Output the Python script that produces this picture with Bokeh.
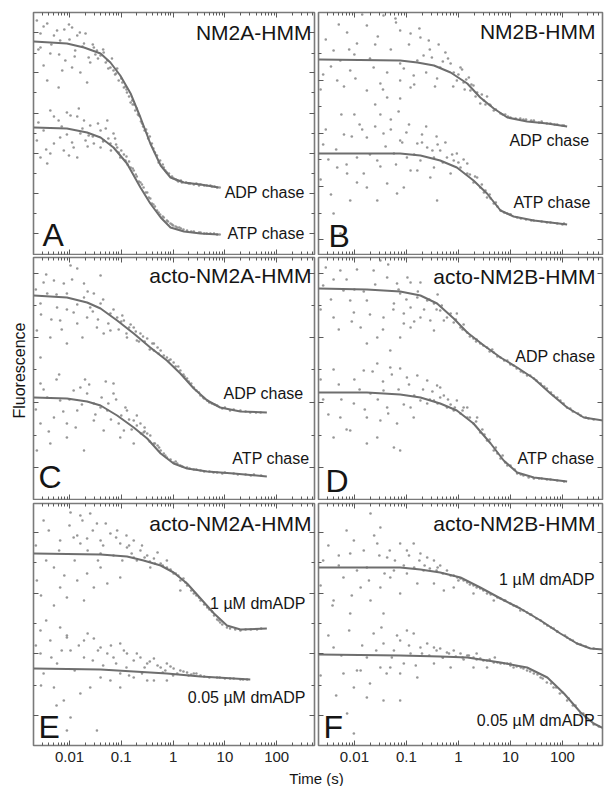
import numpy as np
from bokeh.plotting import figure
from bokeh.models import FixedTicker, LogAxis, LinearAxis, Label, CustomJSTickFormatter
from bokeh.layouts import column, row
from bokeh.embed import file_html
from bokeh.resources import INLINE

# ---------------- data: log10(time / s) and fluorescence (a.u.) ----------------
# Panel A (NM2A-HMM)
a_adp_fit_lt = [-2.69, -2.05, -1.72, -1.40, -1.21, -1.02, -0.82, -0.63, -0.44, -0.24, -0.05, 0.21, 0.53, 0.88]
a_adp_fit_f = [213, 211, 207, 201, 192, 179, 161, 137, 111, 89, 77, 72, 70, 67]
a_atp_fit_lt = [-2.69, -2.05, -1.66, -1.40, -1.15, -0.89, -0.63, -0.44, -0.24, -0.05, 0.21, 0.53, 0.88]
a_atp_fit_f = [127, 126, 122, 117, 107, 91, 67, 51, 37, 27, 23, 21, 20]
a_adp_pts_lt = [-2.63, -2.43, -2.01, -1.95, -2.24, -1.85, -1.69, -2.18, -2.56, -2.37, -2.08, -2.50, -1.95, -1.79, -1.63, -1.47, -1.40, -1.27, -1.21, -1.15, -1.05, -0.95, -0.89, -0.79, -0.73, -0.66, -0.60, -0.50, -0.41, -0.31, -0.18, -0.08, 0.01, 0.17, 0.33, 0.53, 0.72, 0.85, -2.30, -1.72, -1.53, -1.34, -1.89, -2.14, -2.56, -1.66, -2.43, -2.21, -1.00, -0.85, -0.70, -0.55, -0.45, -0.35, -0.25, -0.12, 0.05, 0.10, 0.25, 0.40, 0.60, 0.80, -0.62, -0.78, -0.92, -1.10, -1.30, -1.50,
                -2.6, -2.5, -2.35, -2.2, -2.1, -2.0, -1.9, -1.8, -1.75, -1.6, -1.55, -1.45, -1.35, -1.25, -1.18, -1.12, -1.08, -0.98, -0.9, -0.82, -0.75, -0.68, -0.58, -0.52, -0.48, -0.38, -0.28, -0.2, -0.15, -0.02, 0.08, 0.15, 0.3, 0.45, 0.5, 0.65, 0.75, 0.9]
a_adp_pts_f = [234, 231, 230, 227, 224, 219, 221, 214, 207, 201, 194, 189, 187, 182, 197, 204, 199, 194, 187, 184, 174, 167, 162, 154, 144, 139, 131, 121, 111, 99, 87, 81, 76, 72, 71, 70, 69, 67, 219, 211, 207, 202, 204, 184, 221, 172, 174, 167, 176, 158, 146, 124, 118, 102, 94, 82, 75, 73, 72, 70, 69, 68, 133, 150, 168, 181, 192, 200,
               205, 228, 210, 200, 225, 215, 198, 222, 208, 192, 210, 196, 205, 186, 196, 180, 186, 172, 165, 152, 150, 140, 128, 125, 116, 106, 92, 90, 84, 78, 74, 74, 71, 71, 69, 69, 68, 67]
a_atp_pts_lt = [-2.37, -2.05, -1.98, -1.82, -2.21, -2.50, -2.63, -2.30, -2.11, -1.92, -1.72, -1.60, -1.40, -1.27, -1.15, -2.56, -2.43, -2.01, -1.85, -1.69, -1.53, -1.34, -1.21, -1.08, -1.02, -0.92, -0.82, -0.76, -0.63, -0.57, -0.47, -0.41, -0.31, -0.18, -0.05, 0.08, 0.27, 0.53, 0.79, -1.79, -1.63, -2.18, -2.37, -1.40, -1.05, -0.70, -0.50, -0.35, -0.25, -0.10, 0.00, 0.15, 0.40, 0.65, 0.85, -0.88, -0.95, -1.10, -1.25,
                -2.6, -2.45, -2.3, -2.15, -2.05, -1.95, -1.85, -1.75, -1.65, -1.55, -1.45, -1.35, -1.3, -1.2, -1.12, -1.0, -0.9, -0.85, -0.78, -0.72, -0.66, -0.6, -0.53, -0.44, -0.38, -0.28, -0.2, -0.12, -0.02, 0.05, 0.12, 0.2, 0.35, 0.5, 0.6, 0.72, 0.9]
a_atp_pts_f = [144, 142, 139, 146, 134, 124, 114, 111, 104, 107, 134, 129, 124, 134, 121, 97, 91, 99, 97, 114, 111, 114, 111, 107, 97, 94, 87, 84, 72, 67, 57, 51, 44, 37, 31, 27, 24, 22, 21, 121, 119, 117, 101, 107, 102, 78, 62, 48, 40, 33, 29, 26, 23, 21, 20, 90, 100, 110, 116,
               132, 105, 138, 128, 120, 112, 138, 126, 108, 118, 131, 113, 126, 104, 116, 104, 98, 93, 86, 80, 73, 70, 62, 56, 50, 42, 38, 34, 30, 28, 27, 25, 23, 22, 21, 21, 20]

# Panel B (NM2B-HMM)
b_adp_fit_lt = [-2.69, -1.12, -0.79, -0.47, -0.15, 0.17, 0.42, 0.68, 0.94, 1.32, 1.71, 2.09]
b_adp_fit_f = [195, 194, 192, 189, 182, 171, 157, 146, 137, 133, 131, 128]
b_atp_fit_lt = [-2.69, -1.12, -0.73, -0.35, -0.03, 0.29, 0.55, 0.81, 1.06, 1.45, 2.09]
b_atp_fit_f = [101, 101, 99, 94, 87, 74, 61, 44, 38, 34, 30]
b_adp_pts_lt = [-1.44, -1.21, -1.12, -0.92, -0.73, -0.57, -1.76, -1.95, -2.14, -2.40, -1.63, -1.37, -2.08, -2.33, -1.12, -0.86, -0.67, -0.51, -0.35, -0.25, -0.15, -0.03, 0.10, 0.23, 0.36, 0.49, 0.62, 0.81, 1.00, 1.19, 1.45, 1.77, 2.03, -1.76, -1.37, -1.12, -0.92, -1.50, -2.27, -0.41, -0.09, 0.04, 0.20, 0.29, 0.42, 0.68, -0.79, -1.12, -2.60, -2.00, -1.60, -0.30, 0.55, 0.90, 1.30, 1.60, 1.90, 0.00, 0.15,
                -2.65, -2.55, -2.45, -2.3, -2.2, -2.1, -1.98, -1.85, -1.7, -1.55, -1.45, -1.3, -1.2, -1.05, -0.95, -0.85, -0.75, -0.62, -0.55, -0.45, -0.38, -0.2, -0.1, 0.07, 0.12, 0.25, 0.33, 0.45, 0.52, 0.6, 0.72, 0.85, 0.95, 1.1, 1.25, 1.4, 1.55, 1.7, 1.85, 2.0]
b_adp_pts_f = [239, 236, 224, 221, 217, 214, 229, 211, 222, 204, 187, 182, 184, 174, 174, 179, 199, 197, 187, 202, 191, 174, 172, 164, 162, 154, 149, 141, 137, 136, 134, 131, 129, 164, 157, 156, 167, 171, 194, 176, 182, 187, 177, 169, 151, 144, 194, 191, 180, 200, 210, 193, 158, 140, 135, 133, 130, 180, 175,
               165, 215, 188, 230, 168, 205, 176, 240, 196, 218, 165, 205, 232, 186, 210, 170, 226, 182, 205, 168, 210, 196, 168, 185, 165, 170, 158, 160, 150, 150, 145, 140, 138, 136, 135, 134, 132, 131, 130, 129]
b_atp_pts_lt = [-2.40, -2.27, -2.08, -1.76, -1.56, -1.37, -1.18, -1.05, -0.92, -0.73, -0.54, -0.41, -0.79, -1.12, -1.44, -1.76, -1.95, -2.14, -2.33, -1.24, -0.99, -0.60, -0.47, -0.35, -0.22, -0.09, 0.04, 0.17, 0.29, 0.42, 0.55, 0.68, 0.81, 0.94, 1.13, 1.45, 1.77, 2.03, -0.15, -0.03, 0.17, 0.36, 0.49, -0.47, -0.79, -1.56, -1.82, -2.60, -2.50, -2.20, -1.90, -1.60, -1.30, -1.00, -0.70, -0.40, -2.00, -1.50, -1.15, 0.60, 0.75, 1.00, 1.30, 1.60, 1.90,
                -2.65, -2.55, -2.45, -2.35, -2.25, -2.15, -2.05, -1.95, -1.85, -1.7, -1.6, -1.5, -1.4, -1.3, -1.2, -1.08, -0.95, -0.85, -0.7, -0.62, -0.5, -0.42, -0.3, -0.25, -0.12, 0.0, 0.1, 0.22, 0.32, 0.45, 0.52, 0.62, 0.72, 0.88, 1.0, 1.2, 1.4, 1.7, 2.0]
b_atp_pts_f = [41, 21, 54, 67, 54, 71, 61, 67, 84, 94, 77, 54, 111, 114, 121, 117, 97, 81, 87, 101, 97, 107, 97, 104, 97, 94, 87, 81, 72, 67, 57, 51, 44, 41, 37, 34, 32, 31, 81, 101, 91, 77, 62, 87, 84, 94, 81, 110, 95, 120, 130, 128, 125, 122, 120, 110, 140, 140, 143, 60, 48, 40, 35, 33, 31,
               75, 125, 60, 105, 140, 90, 118, 72, 125, 100, 150, 88, 108, 135, 90, 112, 130, 100, 112, 128, 104, 118, 92, 112, 100, 92, 95, 80, 78, 70, 64, 56, 52, 42, 40, 36, 34, 32, 30]

# Panel C (acto-NM2A-HMM)
c_adp_fit_lt = [-2.69, -2.05, -1.66, -1.40, -1.08, -0.76, -0.44, -0.12, 0.14, 0.40, 0.66, 0.91, 1.30, 1.81]
c_adp_fit_f = [204, 202, 197, 191, 179, 166, 152, 139, 126, 111, 99, 92, 88, 87]
c_atp_fit_lt = [-2.69, -2.05, -1.66, -1.40, -1.08, -0.76, -0.50, -0.24, 0.01, 0.27, 0.66, 1.17, 1.81]
c_atp_fit_f = [102, 101, 98, 94, 84, 72, 61, 46, 36, 31, 28, 26, 23]
c_adp_pts_lt = [-1.98, -1.85, -1.40, -2.30, -2.11, -2.43, -2.56, -2.24, -1.92, -1.72, -1.53, -1.40, -1.21, -1.08, -0.95, -0.76, -0.63, -0.50, -0.37, -0.24, -0.12, 0.01, 0.14, 0.27, 0.40, 0.53, 0.66, 0.85, 1.17, 1.49, 1.69, -2.63, -2.37, -2.05, -1.85, -1.66, -1.47, -1.34, -2.05, -1.72, -2.50, -0.89, -0.70, -0.37, -1.21, -1.60, -2.18, -2.56, -0.55, -0.30, -0.05, 0.20, 0.35, 0.60, 0.75, 1.00, 1.30, -0.85, -1.00,
                -2.65, -2.55, -2.45, -2.35, -2.25, -2.15, -2.05, -1.95, -1.85, -1.75, -1.65, -1.55, -1.45, -1.35, -1.25, -1.15, -1.05, -0.98, -0.9, -0.82, -0.72, -0.66, -0.58, -0.45, -0.4, -0.28, -0.18, -0.08, 0.05, 0.1, 0.22, 0.3, 0.45, 0.5, 0.58, 0.7, 0.8, 0.95, 1.1, 1.4, 1.6]
c_adp_pts_f = [234, 231, 224, 219, 216, 206, 196, 192, 187, 202, 206, 196, 186, 182, 179, 172, 166, 161, 156, 149, 142, 137, 129, 121, 112, 104, 99, 94, 90, 87, 87, 169, 162, 156, 176, 182, 172, 166, 206, 216, 217, 162, 159, 149, 169, 192, 179, 142, 158, 152, 140, 125, 116, 101, 96, 92, 89, 172, 178,
               210, 185, 225, 180, 205, 170, 190, 220, 195, 162, 208, 188, 180, 200, 176, 190, 170, 184, 166, 175, 168, 158, 163, 150, 156, 146, 144, 139, 133, 133, 123, 118, 109, 107, 102, 97, 95, 91, 89, 88, 87]
c_atp_pts_lt = [-2.56, -2.43, -2.30, -2.18, -2.05, -1.92, -1.79, -1.66, -1.53, -1.40, -1.27, -1.15, -1.15, -1.05, -0.95, -0.89, -0.76, -0.63, -0.50, -0.37, -0.24, -0.12, 0.01, 0.14, 0.27, 0.53, 0.85, 1.17, 1.56, -2.63, -2.37, -2.05, -1.72, -2.56, -1.34, -1.02, -0.76, -0.57, -0.44, -1.53, -1.85, -2.20, -1.70, -1.30, -0.70, -0.55, -0.30, -0.18, 0.05, 0.40, 0.70, 1.00, 1.40, 1.70,
                -2.65, -2.5, -2.4, -2.25, -2.12, -2.0, -1.88, -1.76, -1.62, -1.5, -1.38, -1.25, -1.2, -1.1, -1.0, -0.92, -0.85, -0.8, -0.7, -0.62, -0.55, -0.45, -0.35, -0.27, -0.15, -0.05, 0.08, 0.18, 0.32, 0.45, 0.6, 0.78, 0.95, 1.25, 1.5]
c_atp_pts_f = [116, 102, 82, 99, 76, 109, 112, 106, 96, 92, 89, 116, 106, 76, 69, 89, 79, 76, 66, 56, 49, 42, 37, 34, 32, 29, 27, 26, 25, 49, 56, 62, 49, 76, 69, 62, 56, 67, 64, 79, 89, 125, 120, 118, 84, 72, 54, 46, 38, 30, 28, 27, 25, 24,
               90, 110, 68, 120, 88, 100, 72, 95, 115, 85, 102, 96, 80, 100, 84, 92, 80, 70, 74, 66, 68, 58, 56, 52, 44, 40, 36, 33, 31, 30, 28, 27, 26, 25, 24]

# Panel D (acto-NM2B-HMM)
d_adp_fit_lt = [-2.69, -1.76, -1.12, -0.73, -0.41, -0.09, 0.17, 0.49, 0.81, 1.13, 1.45, 1.77, 2.09, 2.41, 2.79]
d_adp_fit_f = [211, 210, 208, 204, 196, 181, 167, 154, 142, 132, 121, 106, 92, 82, 79]
d_atp_fit_lt = [-2.69, -1.76, -1.12, -0.73, -0.35, -0.03, 0.29, 0.62, 0.87, 1.13, 1.45, 2.09]
d_atp_fit_f = [107, 107, 105, 102, 96, 89, 76, 56, 39, 27, 22, 18]
d_adp_pts_lt = [-1.50, -1.63, -1.37, -1.18, -0.92, -0.73, -1.12, -1.76, -2.01, -2.21, -1.44, -1.24, -1.05, -0.92, -0.79, -0.60, -0.47, -0.35, -0.22, -0.09, 0.04, 0.17, 0.29, 0.42, 0.55, 0.81, 1.06, 1.32, 1.58, 1.83, 2.09, 2.35, -1.76, -1.56, -1.31, -1.12, -0.92, -0.73, -0.47, -2.27, -2.08, -2.40, -1.88, -0.54, -0.28, -0.03, 0.68, 0.94, 1.45, 1.96, -2.60, -2.40, -2.00, -1.00, -0.40, 0.10, 0.35, 0.65, 1.20, 1.70, 2.20, 2.50,
                -2.65, -2.55, -2.45, -2.3, -2.15, -2.05, -1.95, -1.82, -1.7, -1.6, -1.45, -1.35, -1.25, -1.15, -1.05, -0.98, -0.85, -0.78, -0.66, -0.56, -0.42, -0.32, -0.15, -0.05, 0.08, 0.22, 0.34, 0.48, 0.6, 0.75, 0.88, 1.0, 1.12, 1.25, 1.38, 1.5, 1.65, 1.78, 1.9, 2.02, 2.15, 2.3, 2.45, 2.6]
d_adp_pts_f = [239, 229, 222, 216, 217, 217, 206, 199, 187, 209, 182, 196, 176, 192, 202, 199, 196, 189, 182, 177, 172, 167, 161, 156, 152, 142, 134, 124, 116, 104, 92, 84, 156, 162, 149, 162, 172, 182, 169, 229, 199, 182, 172, 179, 179, 186, 147, 139, 121, 99, 214, 220, 210, 200, 205, 175, 160, 150, 128, 111, 88, 81,
               190, 232, 200, 170, 220, 178, 230, 208, 185, 215, 170, 235, 190, 210, 186, 222, 178, 208, 190, 200, 190, 194, 186, 180, 170, 163, 158, 154, 148, 143, 139, 135, 131, 127, 124, 119, 113, 107, 102, 96, 91, 86, 82, 80]
d_atp_pts_lt = [-1.82, -1.56, -1.31, -1.12, -0.99, -0.79, -0.60, -0.41, -1.44, -1.69, -2.01, -2.27, -2.40, -2.08, -1.76, -1.50, -1.18, -1.12, -1.24, -0.92, -0.73, -0.47, -0.35, -0.22, -0.09, 0.04, 0.17, 0.29, 0.42, 0.55, 0.68, 0.81, 0.94, 1.13, 1.45, 1.77, 2.03, -0.35, -0.60, -0.86, -0.03, 0.17, 0.36, -1.76, -1.37, -1.56, -2.60, -2.30, -0.20, 0.10, 0.50, 0.75, 0.90, 1.20, 1.60,
                -2.65, -2.5, -2.4, -2.25, -2.15, -2.0, -1.9, -1.8, -1.65, -1.55, -1.45, -1.35, -1.28, -1.15, -1.05, -0.95, -0.85, -0.68, -0.55, -0.5, -0.4, -0.28, -0.15, -0.07, 0.08, 0.22, 0.34, 0.46, 0.6, 0.72, 0.85, 1.0, 1.08, 1.25, 1.35, 1.55, 1.7, 1.9]
d_atp_pts_f = [129, 136, 132, 131, 122, 124, 119, 114, 109, 106, 96, 82, 62, 69, 82, 79, 76, 49, 52, 92, 99, 99, 102, 92, 89, 86, 82, 76, 67, 59, 49, 41, 34, 26, 21, 20, 18, 112, 96, 82, 99, 92, 82, 56, 92, 62, 100, 115, 100, 92, 65, 46, 37, 25, 21,
               120, 85, 130, 100, 70, 120, 110, 90, 128, 100, 118, 86, 125, 110, 95, 115, 104, 110, 100, 108, 96, 104, 95, 92, 89, 82, 78, 70, 60, 52, 44, 34, 30, 24, 22, 21, 20, 19]

# Panel E (acto-NM2A-HMM, dmADP)
e_hi_fit_lt = [-2.69, -1.40, -0.89, -0.57, -0.24, 0.01, 0.27, 0.53, 0.79, 1.04, 1.30, 1.81]
e_hi_fit_f = [192, 191, 189, 185, 180, 173, 162, 147, 132, 120, 116, 117]
e_lo_fit_lt = [-2.69, -1.40, -0.76, -0.12, 0.53, 1.17, 1.49]
e_lo_fit_f = [77, 76, 74, 72, 69, 67, 66]
e_hi_pts_lt = [-1.98, -1.79, -1.60, -1.47, -1.92, -1.79, -1.66, -1.40, -1.21, -1.08, -1.02, -0.89, -0.76, -0.63, -0.50, -0.37, -0.24, -0.12, 0.01, 0.14, 0.27, 0.40, 0.53, 0.66, 0.79, 0.91, 1.04, 1.30, 1.62, -2.63, -2.30, -2.18, -2.05, -1.85, -1.66, -1.40, -1.27, -1.02, -1.72, -2.50, -2.18, -1.40, -0.76, -0.44, -0.12, 0.14, -1.53, -0.30, 0.20, 0.50, 0.70, 0.85, 1.10, 1.40, 1.70, -0.60, -0.90,
               -2.65, -2.55, -2.45, -2.4, -2.3, -2.2, -2.1, -2.0, -1.9, -1.85, -1.75, -1.65, -1.55, -1.45, -1.35, -1.3, -1.15, -1.1, -0.98, -0.85, -0.8, -0.7, -0.55, -0.45, -0.35, -0.2, -0.05, 0.05, 0.1, 0.24, 0.35, 0.45, 0.6, 0.75, 0.88, 0.95, 1.2, 1.5]
e_hi_pts_f = [233, 230, 232, 222, 208, 202, 207, 205, 212, 215, 202, 198, 205, 195, 190, 187, 182, 178, 172, 165, 160, 152, 145, 138, 130, 123, 118, 115, 116, 165, 178, 158, 148, 165, 172, 178, 162, 168, 145, 225, 205, 192, 188, 178, 185, 155, 158, 193, 167, 148, 136, 126, 117, 116, 117, 200, 210,
              200, 150, 185, 215, 140, 195, 170, 220, 185, 210, 225, 195, 215, 185, 200, 222, 190, 208, 185, 200, 192, 185, 188, 184, 182, 180, 176, 172, 170, 163, 155, 150, 141, 134, 125, 121, 116, 116]
e_lo_pts_lt = [-2.56, -2.37, -2.18, -2.05, -1.98, -1.72, -1.53, -1.40, -1.27, -1.15, -1.02, -0.89, -0.76, -0.63, -0.50, -0.37, -0.24, -0.12, 0.01, 0.14, 0.27, 0.40, 0.53, 0.85, 1.17, 1.43, -2.50, -2.30, -2.11, -1.98, -1.79, -1.60, -1.40, -1.21, -1.02, -0.76, -0.50, -1.72, -2.05, -1.47, -2.56, -2.24, -1.02, -0.37, -0.12, -0.20, 0.00, 0.30, 0.60, 1.00, 1.30, -0.60, -0.90,
               -2.65, -2.55, -2.45, -2.35, -2.25, -2.15, -2.05, -1.9, -1.82, -1.65, -1.55, -1.45, -1.35, -1.2, -1.1, -0.95, -0.85, -0.7, -0.55, -0.45, -0.3, -0.15, -0.05, 0.08, 0.2, 0.35, 0.45, 0.7, 0.9, 1.1, 1.35]
e_lo_pts_f = [115, 105, 118, 108, 95, 105, 107, 98, 92, 88, 102, 92, 85, 88, 82, 87, 78, 82, 77, 75, 73, 72, 70, 68, 67, 66, 72, 58, 45, 28, 52, 58, 68, 65, 72, 68, 65, 88, 15, 15, 92, 82, 58, 65, 65, 73, 70, 70, 69, 67, 66, 72, 78,
              100, 60, 125, 88, 40, 95, 110, 75, 100, 112, 85, 95, 80, 100, 82, 95, 70, 92, 78, 84, 80, 75, 79, 72, 74, 71, 72, 68, 68, 67, 66]

# Panel F (acto-NM2B-HMM, dmADP)
f_hi_fit_lt = [-2.69, -1.12, -0.73, -0.35, 0.04, 0.42, 0.81, 1.19, 1.58, 1.96, 2.28, 2.54, 2.79]
f_hi_fit_f = [178, 178, 176, 173, 168, 158, 147, 137, 125, 112, 102, 97, 96]
f_lo_fit_lt = [-2.69, -1.12, -0.35, 0.17, 0.81, 1.32, 1.71, 2.03, 2.35, 2.60, 2.79]
f_lo_fit_f = [91, 90, 89, 88, 83, 78, 68, 52, 33, 22, 17]
f_hi_pts_lt = [-1.69, -1.50, -1.56, -2.01, -2.08, -1.76, -1.37, -1.12, -0.99, -0.86, -0.73, -0.60, -0.47, -0.35, -0.22, -0.09, 0.04, 0.17, 0.29, 0.42, 0.55, 0.81, 1.06, 1.32, 1.58, 1.83, 2.09, 2.35, -1.88, -1.69, -1.50, -1.31, -1.12, -0.99, -1.44, -2.21, -2.40, -0.79, -1.24, -0.67, -0.47, -0.28, -0.09, 0.29, 0.68, 1.19, 1.71, -2.08, -2.60, -2.30, 0.90, 1.40, 1.90, 2.20, -0.40, 0.00,
               -2.65, -2.5, -2.42, -2.3, -2.15, -2.05, -1.95, -1.82, -1.72, -1.62, -1.52, -1.42, -1.32, -1.22, -1.05, -0.95, -0.85, -0.75, -0.65, -0.55, -0.42, -0.3, -0.15, -0.02, 0.1, 0.22, 0.35, 0.48, 0.62, 0.75, 0.88, 1.0, 1.12, 1.25, 1.38, 1.5, 1.65, 1.78, 1.9, 2.05, 2.15, 2.28, 2.45, 2.6]
f_hi_pts_f = [232, 218, 202, 205, 192, 178, 188, 202, 195, 202, 192, 188, 185, 180, 175, 170, 167, 163, 160, 157, 152, 147, 140, 133, 125, 117, 108, 101, 158, 145, 158, 168, 152, 172, 132, 168, 145, 162, 175, 175, 162, 155, 158, 152, 145, 135, 120, 132, 185, 180, 145, 131, 114, 105, 178, 165,
              160, 200, 140, 190, 215, 150, 175, 195, 165, 210, 190, 172, 195, 185, 180, 190, 178, 185, 180, 177, 175, 172, 170, 168, 165, 161, 158, 155, 151, 148, 145, 142, 139, 135, 131, 127, 122, 118, 114, 110, 106, 102, 99, 97]
f_lo_pts_lt = [-0.99, -0.86, -1.12, -1.24, -1.44, -1.63, -1.76, -1.88, -2.01, -2.21, -2.40, -1.50, -1.31, -1.12, -0.92, -0.73, -0.60, -0.47, -0.35, -0.22, -0.09, 0.04, 0.17, 0.29, 0.42, 0.55, 0.68, 0.81, 1.06, 1.32, 1.58, 1.83, 2.09, 2.35, 2.60, -1.76, -1.44, -1.12, -0.79, -0.47, -0.15, 0.29, 0.55, 0.94, -2.14, -2.01, -0.30, 0.10, 0.35, 0.70, 1.00, 1.20, 1.45, 1.70, 1.95, 2.20, 2.45,
               -2.65, -2.5, -2.35, -2.25, -2.1, -1.95, -1.85, -1.7, -1.58, -1.48, -1.38, -1.28, -1.18, -1.05, -0.95, -0.82, -0.7, -0.56, -0.42, -0.3, -0.18, -0.05, 0.08, 0.2, 0.35, 0.48, 0.6, 0.75, 0.88, 1.0, 1.12, 1.25, 1.38, 1.52, 1.62, 1.78, 1.88, 2.0, 2.12, 2.25, 2.4, 2.55, 2.7]
f_lo_pts_f = [115, 112, 105, 95, 102, 112, 88, 75, 58, 72, 98, 78, 78, 72, 92, 98, 102, 98, 97, 93, 95, 92, 90, 88, 87, 85, 83, 82, 78, 75, 68, 58, 45, 32, 21, 48, 45, 45, 68, 82, 78, 78, 78, 82, 32, 12, 88, 86, 92, 88, 82, 78, 72, 63, 52, 40, 28,
              70, 110, 50, 90, 115, 75, 100, 62, 95, 118, 72, 88, 110, 82, 100, 80, 92, 90, 95, 88, 92, 89, 88, 90, 86, 85, 86, 83, 82, 80, 79, 77, 74, 71, 67, 62, 58, 53, 47, 40, 32, 25, 19]

# tick labels
x_tick_values = [0.01, 0.1, 1, 10, 100]
x_tick_labels = ["0.01", "0.1", "1", "10", "100"]

# ---------------- styling / layout ----------------
FONT = "Liberation Sans"
PT_COLOR = "#8c8c8c"
LINE_COLOR = "#6e6e6e"
FRAME_COLOR = "#7a7a7a"
TICK_COLOR = "#5a5a5a"
TXT = "#151515"

X_MINOR = [m * 10.0 ** e for e in range(-3, 3) for m in range(2, 10)]

LSTRIP = 30
FW = [281, 284]
FH = 242
BL = [3, 2]
BR = [2, 2]
BT = [12, 2, 3]
BB = [1, 1, 23]
XR = [(10 ** -2.695, 10 ** 2.73), (10 ** -2.69, 10 ** 2.77)]

fmt_code = "const labs = %s; const vals = %s; for (let i = 0; i < vals.length; i++) { if (Math.abs(tick - vals[i]) < 1e-9 * vals[i]) return labs[i]; } return '';" % (
    str(x_tick_labels), str(x_tick_values))


def style_axis(ax, major, minor, labels=False):
    ax.ticker = FixedTicker(ticks=major, minor_ticks=minor)
    ax.axis_line_color = None
    ax.major_tick_in = 5
    ax.major_tick_out = 0
    ax.minor_tick_in = 3
    ax.minor_tick_out = 0
    ax.major_tick_line_color = TICK_COLOR
    ax.minor_tick_line_color = TICK_COLOR
    ax.major_tick_line_width = 1
    ax.minor_tick_line_width = 1
    if labels:
        ax.formatter = CustomJSTickFormatter(code=fmt_code)
        ax.major_label_text_font = FONT
        ax.major_label_text_font_size = "15px"
        ax.major_label_text_color = "#222222"
        ax.major_label_text_alpha = 1.0
        ax.major_label_standoff = 6
    else:
        ax.major_label_text_font_size = "1px"
        ax.major_label_text_alpha = 0.0
        ax.major_label_standoff = 0


def make_panel(col, rw, traces, ymaj, ymin, texts):
    p = figure(width=BL[col] + FW[col] + BR[col], height=BT[rw] + FH + BB[rw],
               x_axis_type="log", x_range=XR[col], y_range=(0, 242),
               toolbar_location=None, output_backend="svg",
               min_border_left=BL[col], min_border_right=BR[col],
               min_border_top=BT[rw], min_border_bottom=BB[rw])
    p.xgrid.grid_line_color = None
    p.ygrid.grid_line_color = None
    p.outline_line_color = FRAME_COLOR
    p.outline_line_width = 1.6
    p.background_fill_color = "white"
    p.border_fill_color = "white"
    p.add_layout(LogAxis(), "above")
    p.add_layout(LinearAxis(), "right")
    for ax in p.xaxis:
        style_axis(ax, x_tick_values, X_MINOR, labels=False)
    for ax in p.yaxis:
        style_axis(ax, ymaj, ymin)
    if rw == 2:
        style_axis(p.below[0], x_tick_values, X_MINOR, labels=True)
    for pl, pf, fl, ff in traces:
        n = min(len(pl), len(pf))
        p.scatter(10 ** np.array(pl[:n]), pf[:n], size=2.6, marker="circle",
                  fill_color=PT_COLOR, line_color=None, alpha=0.9)
        m = min(len(fl), len(ff))
        p.line(10 ** np.array(fl[:m]), ff[:m], line_color=LINE_COLOR, line_width=2.0,
               line_join="round")
    for fx, fy, txt, size, align, base in texts:
        p.add_layout(Label(x=float(fx * FW[col]), y=float(fy), x_units="screen", y_units="screen",
                           text=txt, text_font=FONT, text_font_size=size, text_color=TXT,
                           text_align=align, text_baseline=base))
    return p


TITLE = "21px"
LAB = "16px"
LET = "32px"
M = "middle"
BT_ = "bottom"

pA = make_panel(0, 0,
                [(a_adp_pts_lt, a_adp_pts_f, a_adp_fit_lt, a_adp_fit_f),
                 (a_atp_pts_lt, a_atp_pts_f, a_atp_fit_lt, a_atp_fit_f)],
                [21, 61, 101, 141, 182, 222], [41, 81, 121, 162, 201],
                [(0.989, 222.5, "NM2A-HMM", TITLE, "right", M),
                 (0.965, 62, "ADP chase", LAB, "right", M),
                 (0.965, 21, "ATP chase", LAB, "right", M),
                 (0.032, 2, "A", LET, "left", BT_)])
pB = make_panel(1, 0,
                [(b_adp_pts_lt, b_adp_pts_f, b_adp_fit_lt, b_adp_fit_f),
                 (b_atp_pts_lt, b_atp_pts_f, b_atp_fit_lt, b_atp_fit_f)],
                [15, 68, 121, 174], [41, 95, 148, 201],
                [(0.975, 223, "NM2B-HMM", TITLE, "right", M),
                 (0.954, 114, "ADP chase", LAB, "right", M),
                 (0.958, 52, "ATP chase", LAB, "right", M),
                 (0.035, 0.5, "B", LET, "left", BT_)])
pC = make_panel(0, 1,
                [(c_adp_pts_lt, c_adp_pts_f, c_adp_fit_lt, c_adp_fit_f),
                 (c_atp_pts_lt, c_atp_pts_f, c_atp_fit_lt, c_atp_fit_f)],
                [32, 97, 162, 226], [64, 130, 194],
                [(0.989, 224, "acto-NM2A-HMM", TITLE, "right", M),
                 (0.961, 106, "ADP chase", LAB, "right", M),
                 (0.982, 41, "ATP chase", LAB, "right", M),
                 (0.018, 5, "C", LET, "left", BT_)])
pD = make_panel(1, 1,
                [(d_adp_pts_lt, d_adp_pts_f, d_adp_fit_lt, d_adp_fit_f),
                 (d_atp_pts_lt, d_atp_pts_f, d_atp_fit_lt, d_atp_fit_f)],
                [32, 97, 162, 226], [64, 130, 194],
                [(0.975, 223, "acto-NM2B-HMM", TITLE, "right", M),
                 (0.975, 143, "ADP chase", LAB, "right", M),
                 (0.972, 41, "ATP chase", LAB, "right", M),
                 (0.025, 0.5, "D", LET, "left", BT_)])
pE = make_panel(0, 2,
                [(e_hi_pts_lt, e_hi_pts_f, e_hi_fit_lt, e_hi_fit_f),
                 (e_lo_pts_lt, e_lo_pts_f, e_lo_fit_lt, e_lo_fit_f)],
                [30, 92, 152, 213], [60, 122, 183],
                [(0.989, 222, "acto-NM2A-HMM", TITLE, "right", M),
                 (0.968, 142, "1 \u00b5M dmADP", LAB, "right", M),
                 (0.968, 48, "0.05 \u00b5M dmADP", LAB, "right", M),
                 (0.018, 0.5, "E", LET, "left", BT_)])
pF = make_panel(1, 2,
                [(f_hi_pts_lt, f_hi_pts_f, f_hi_fit_lt, f_hi_fit_f),
                 (f_lo_pts_lt, f_lo_pts_f, f_lo_fit_lt, f_lo_fit_f)],
                [30, 92, 152, 213], [60, 122, 183],
                [(0.975, 222, "acto-NM2B-HMM", TITLE, "right", M),
                 (0.972, 166, "1 \u00b5M dmADP", LAB, "right", M),
                 (0.972, 25, "0.05 \u00b5M dmADP", LAB, "right", M),
                 (0.018, 0.5, "F", LET, "left", BT_)])


def blank(w, h):
    s = figure(width=w, height=h, x_range=(0, w), y_range=(0, h),
               toolbar_location=None, output_backend="svg",
               min_border_left=0, min_border_right=0, min_border_top=0, min_border_bottom=0)
    s.axis.visible = False
    s.xgrid.grid_line_color = None
    s.ygrid.grid_line_color = None
    s.outline_line_color = None
    return s


panel_h = sum(BT) + 3 * FH + sum(BB)
left_strip = blank(LSTRIP, panel_h)
left_strip.add_layout(Label(x=19.0, y=float(panel_h - 370), x_units="screen", y_units="screen",
                            text="Fluorescence", text_font=FONT, text_font_size="16px",
                            text_color=TXT, angle=float(np.pi / 2),
                            text_align="center", text_baseline="middle"))

total_w = LSTRIP + sum(BL) + sum(FW) + sum(BR)
bottom_strip = blank(total_w, 18)
bottom_strip.add_layout(Label(x=316.0, y=8.0, x_units="screen", y_units="screen", text="Time (s)",
                              text_font=FONT, text_font_size="15px", text_color=TXT,
                              text_align="center", text_baseline="middle"))

grid = column(row(pA, pB), row(pC, pD), row(pE, pF))
layout = column(row(left_strip, grid), bottom_strip)

with open("out.html", "w") as fh:
    fh.write(file_html(layout, INLINE))
